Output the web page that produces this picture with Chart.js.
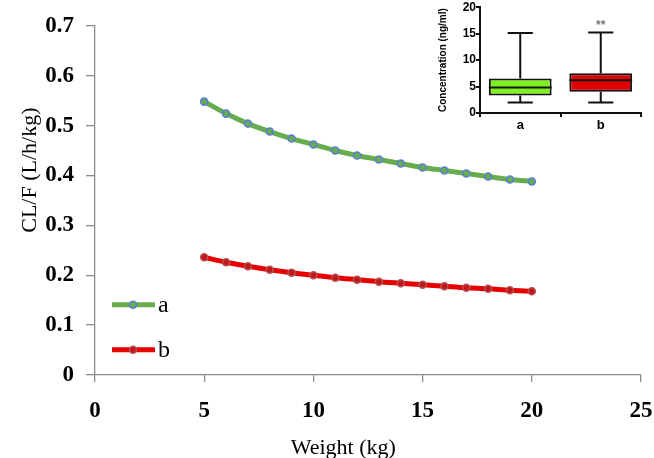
<!DOCTYPE html>
<html>
<head>
<meta charset="utf-8">
<script src="https://cdn.jsdelivr.net/npm/chart.js@4.4.0/dist/chart.umd.min.js"></script>
<style>
body { margin: 0; background: #fff; }
#wrap { position: relative; width: 654px; height: 458px; }
#main { position: absolute; left: 0; top: 0; }
#inset { position: absolute; left: 430px; top: 0; }
</style>
</head>
<body>
<div id="wrap">
<canvas id="main" width="654" height="458"></canvas>
<canvas id="inset" width="224" height="135"></canvas>
</div>
<script>
// main chart data
var weights = [5, 6, 7, 8, 9, 10, 11, 12, 13, 14, 15, 16, 17, 18, 19, 20];
var clA = [0.548, 0.524, 0.504, 0.488, 0.474, 0.462, 0.450, 0.440, 0.432, 0.424, 0.416, 0.410, 0.404, 0.398, 0.392, 0.388];
var clB = [0.236, 0.226, 0.218, 0.211, 0.205, 0.200, 0.195, 0.191, 0.187, 0.184, 0.181, 0.178, 0.175, 0.173, 0.170, 0.168];
var seriesNames = ['a', 'b'];

// inset box plot data
var groups = ['a', 'b'];
var boxMin = [2.0, 2.0];
var boxQ1 = [3.3, 4.0];
var boxMedian = [4.8, 6.2];
var boxQ3 = [6.5, 7.5];
var boxMax = [15.1, 15.2];
var signif = ['', '**'];

var serif = "'Liberation Serif', 'Times New Roman', serif";
var sans = "'Liberation Sans', Arial, sans-serif";

function toPoints(xs, ys) {
    return xs.map(function(x, i) { return { x: x, y: ys[i] }; });
}

// legend drawn inside the plot, lower left
var legendInside = {
    id: 'legendInside',
    afterDraw: function(chart) {
        var ctx = chart.ctx;
        var area = chart.chartArea;
        chart.data.datasets.forEach(function(ds, i) {
            var y = area.top + 279 + i * 45;
            var x0 = area.left + 17;
            ctx.save();
            ctx.strokeStyle = ds.borderColor;
            ctx.lineWidth = ds.borderWidth;
            ctx.beginPath();
            ctx.moveTo(x0, y);
            ctx.lineTo(x0 + 43, y);
            ctx.stroke();
            ctx.beginPath();
            ctx.arc(x0 + 21, y, ds.pointRadius, 0, Math.PI * 2);
            ctx.fillStyle = ds.pointBackgroundColor;
            ctx.fill();
            ctx.lineWidth = ds.pointBorderWidth;
            ctx.strokeStyle = ds.pointBorderColor;
            ctx.stroke();
            ctx.fillStyle = '#000';
            ctx.font = '24px ' + serif;
            ctx.textBaseline = 'middle';
            ctx.fillText(ds.label, x0 + 46, y + 1);
            ctx.restore();
        });
    }
};

new Chart(document.getElementById('main'), {
    type: 'line',
    data: {
        datasets: [{
            label: seriesNames[0],
            data: toPoints(weights, clA),
            borderColor: '#67ad4f',
            borderWidth: 5,
            pointRadius: 3.5,
            pointBackgroundColor: '#67ad4f',
            pointBorderColor: '#5a7fd2',
            pointBorderWidth: 1.6,
            tension: 0.3
        }, {
            label: seriesNames[1],
            data: toPoints(weights, clB),
            borderColor: '#e60000',
            borderWidth: 5,
            pointRadius: 3.5,
            pointBackgroundColor: '#c0161c',
            pointBorderColor: '#b85050',
            pointBorderWidth: 1.6,
            tension: 0.3
        }]
    },
    options: {
        responsive: false,
        animation: false,
        layout: { padding: { top: 25, right: 0 } },
        plugins: { legend: { display: false }, tooltip: { enabled: false } },
        scales: {
            x: {
                type: 'linear',
                min: 0,
                max: 25,
                afterFit: function(scale) {
                    scale.height = 83;
                    scale.paddingRight = 13;
                },
                ticks: {
                    stepSize: 5,
                    padding: 15,
                    color: '#000',
                    font: { family: serif, size: 23, weight: 'bold' }
                },
                grid: { drawOnChartArea: false, tickLength: 7, color: '#8c8c8c', lineWidth: 1.3 },
                border: { color: '#8c8c8c', width: 1.3 },
                title: {
                    display: true,
                    text: 'Weight (kg)         ',
                    color: '#000',
                    padding: { top: 0, bottom: 0 },
                    font: { family: serif, size: 22, lineHeight: 0.85 }
                }
            },
            y: {
                min: 0,
                max: 0.7,
                afterFit: function(scale) { scale.width = 95; },
                ticks: {
                    stepSize: 0.1,
                    padding: 12,
                    color: '#000',
                    font: { family: serif, size: 23, weight: 'bold' },
                    callback: function(v) { return v === 0 ? '0' : v.toFixed(1); }
                },
                grid: { drawOnChartArea: false, tickLength: 9, color: '#8c8c8c', lineWidth: 1.3 },
                border: { color: '#8c8c8c', width: 1.3 },
                title: {
                    display: true,
                    text: '           CL/F (L/h/kg)',
                    color: '#000',
                    padding: { top: 19, bottom: 0 },
                    font: { family: serif, size: 22, lineHeight: 1 }
                }
            }
        }
    },
    plugins: [legendInside]
});

// whiskers, median and significance marks for the inset
var boxExtras = {
    id: 'boxExtras',
    afterDatasetsDraw: function(chart) {
        var ctx = chart.ctx;
        var ys = chart.scales.y;
        var meta = chart.getDatasetMeta(0);
        meta.data.forEach(function(bar, i) {
            var x = bar.x, w = bar.width;
            var cap = w * 0.2;
            ctx.save();
            ctx.strokeStyle = '#111';
            ctx.lineWidth = 2;
            ctx.beginPath();
            ctx.moveTo(x - w / 2, ys.getPixelForValue(boxMedian[i]));
            ctx.lineTo(x + w / 2, ys.getPixelForValue(boxMedian[i]));
            ctx.moveTo(x, ys.getPixelForValue(boxQ3[i]));
            ctx.lineTo(x, ys.getPixelForValue(boxMax[i]));
            ctx.moveTo(x - cap, ys.getPixelForValue(boxMax[i]));
            ctx.lineTo(x + cap, ys.getPixelForValue(boxMax[i]));
            ctx.moveTo(x, ys.getPixelForValue(boxQ1[i]));
            ctx.lineTo(x, ys.getPixelForValue(boxMin[i]));
            ctx.moveTo(x - cap, ys.getPixelForValue(boxMin[i]));
            ctx.lineTo(x + cap, ys.getPixelForValue(boxMin[i]));
            ctx.stroke();
            if (signif[i]) {
                ctx.fillStyle = '#777';
                ctx.font = 'bold 12px ' + sans;
                ctx.textAlign = 'center';
                ctx.textBaseline = 'bottom';
                ctx.fillText(signif[i], x, ys.getPixelForValue(boxMax[i]) - 1);
            }
            ctx.restore();
        });
    }
};

new Chart(document.getElementById('inset'), {
    type: 'bar',
    data: {
        labels: groups,
        datasets: [{
            data: boxQ1.map(function(q, i) { return [q, boxQ3[i]]; }),
            backgroundColor: ['#80f020', '#dd0000'],
            borderColor: '#111',
            borderWidth: 2,
            borderSkipped: false,
            barPercentage: 0.78,
            categoryPercentage: 1
        }]
    },
    options: {
        responsive: false,
        animation: false,
        layout: { padding: { top: 7, right: 13 } },
        plugins: { legend: { display: false }, tooltip: { enabled: false } },
        scales: {
            x: {
                afterFit: function(scale) { scale.height = 22; },
                ticks: { color: '#000', padding: 1, font: { family: sans, size: 13, weight: 'bold' } },
                grid: { drawOnChartArea: false, tickLength: 4, color: '#111', lineWidth: 2 },
                border: { color: '#111', width: 2 }
            },
            y: {
                min: 0,
                max: 20,
                afterFit: function(scale) { scale.width = 50; },
                ticks: { stepSize: 5, color: '#000', padding: 0, font: { family: sans, size: 12, weight: 'bold' } },
                grid: { drawOnChartArea: false, tickLength: 4, color: '#111', lineWidth: 2 },
                border: { color: '#111', width: 2 },
                title: {
                    display: true,
                    text: 'Concentration (ng/ml)',
                    color: '#000',
                    padding: { top: 7, bottom: 0 },
                    font: { family: sans, size: 10, weight: 'bold' }
                }
            }
        }
    },
    plugins: [boxExtras]
});
</script>
</body>
</html>
